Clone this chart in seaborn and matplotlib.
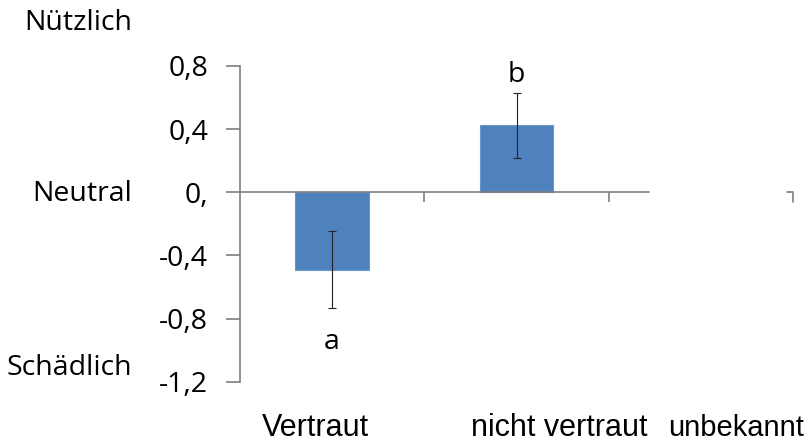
import numpy as np
import pandas as pd
import seaborn as sns
import matplotlib.pyplot as plt

# values
categories = ['Vertraut', 'nicht vertraut', 'unbekannt']
means = [-0.49, 0.425, np.nan]
errors = [0.243, 0.205, np.nan]
letters = ['a', 'b', '']
letter_y = [-0.95, 0.74, np.nan]
y_ticks = [0.8, 0.4, 0.0, -0.4, -0.8, -1.2]
y_tick_labels = ['0,8', '0,4', '0,', '-0,4', '-0,8', '-1,2']
side_labels = ['Nützlich', 'Neutral', 'Schädlich']
side_y = [23, 194, 368]              # pixel rows of the left-hand labels
x_label_center = [-0.09, 1.23, 2.19]  # centres of the category labels (data x)

sns.set_style('white')
plt.rcParams['font.family'] = ['Open Sans', 'DejaVu Sans']
plt.rcParams['text.color'] = 'black'

df = pd.DataFrame({'Gruppe': categories, 'Wert': means})

fig = plt.figure(figsize=(8.05, 4.44), dpi=100)
ax = fig.add_axes([240 / 805, 1 - 381.7 / 444, 553 / 805, (381.7 - 66) / 444])

sns.barplot(data=df.dropna(), x='Gruppe', y='Wert', order=categories,
            color='#4F81BD', saturation=1, width=0.4, edgecolor='#6C95C8',
            linewidth=0.8, errorbar=None, ax=ax)

# error bars
ax.errorbar(range(len(categories)), means, yerr=errors, fmt='none',
            ecolor='#222222', elinewidth=0.8, capsize=3, capthick=0.8, zorder=5)

# significance letters
for i, (lt, ly) in enumerate(zip(letters, letter_y)):
    if lt:
        ax.text(i, ly, lt, ha='center', va='center', fontsize=20.5)

ax.set_xlim(-0.5, 2.5)
ax.set_ylim(-1.2, 0.8)
for s in ['top', 'right', 'bottom']:
    ax.spines[s].set_visible(False)
ax.spines['left'].set_color('#7f7f7f')
ax.spines['left'].set_linewidth(1.2)

ax.set_yticks(y_ticks)
ax.set_yticklabels(y_tick_labels, fontsize=20.5, color='black')
ax.tick_params(axis='y', direction='out', length=10, width=1.2, color='#7f7f7f',
               pad=13, left=True)
ax.set_xticks([])
ax.set_xlabel('')
ax.set_ylabel('')

# zero line with its category ticks (the line breaks off before the end)
tick_len = 10 / 157.5
ax.plot([-0.5, 1.72], [0, 0], color='#7f7f7f', lw=1.2, zorder=1, clip_on=False)
ax.vlines([0.5, 1.5], -tick_len, 0, color='#7f7f7f', lw=1.2)
ax.plot([2.47, 2.5, 2.5], [0, 0, -tick_len], color='#7f7f7f', lw=1.2, clip_on=False)

# category labels
for xc, cat, fs in zip(x_label_center, categories, [22, 22, 21]):
    ax.text(xc, -1.494, cat, ha='center', va='center', fontsize=fs,
            family=['Liberation Sans', 'DejaVu Sans'], color='black')

# left-hand descriptive labels
for lab, py in zip(side_labels, side_y):
    fig.text(132 / 805, 1 - py / 444, lab, ha='right', va='center', fontsize=20.5)

fig.savefig('out.png', dpi=100)
